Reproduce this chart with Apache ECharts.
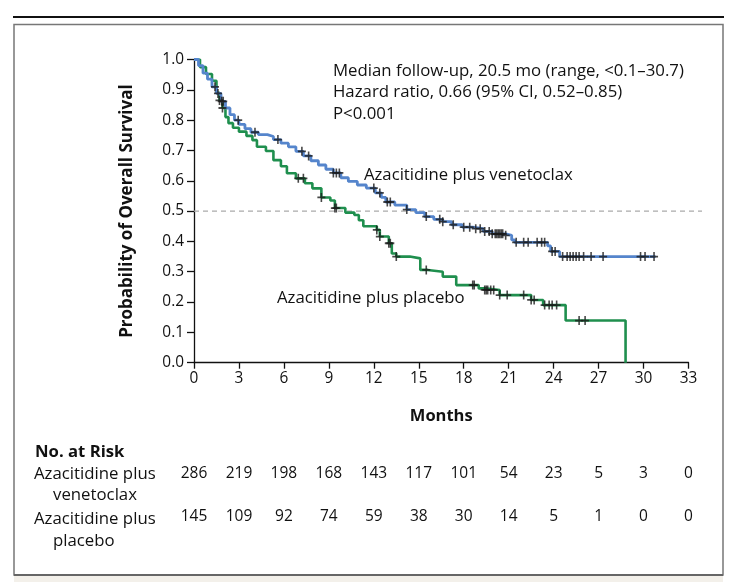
<!DOCTYPE html>
<html><head><meta charset="utf-8">
<script src="https://cdn.jsdelivr.net/npm/echarts@6/dist/echarts.min.js"></script>
<style>html,body{margin:0;padding:0;background:#fff}#c{width:740px;height:582px}</style>
</head><body><div id="c"></div>
<script>
// ---- data ----
var venTimes = [0,0.3,0.6,0.9,1.2,1.5,1.8,2.1,2.4,2.7,3.0,3.4,3.8,4.3,4.9,5.3,5.8,6.3,6.8,7.3,7.8,8.3,8.8,9.3,9.8,10.3,10.9,11.5,12.1,12.5,12.8,13.4,14.2,14.8,15.4,16.0,16.6,17.2,17.9,18.6,19.3,19.9,20.8,21.2,21.4,23.6,23.8,24.4,30.8];
var venSurv  = [1.0,0.98,0.955,0.935,0.91,0.888,0.862,0.84,0.818,0.80,0.786,0.772,0.76,0.752,0.746,0.736,0.724,0.712,0.697,0.682,0.666,0.652,0.638,0.626,0.61,0.598,0.586,0.576,0.56,0.545,0.53,0.52,0.505,0.495,0.482,0.473,0.465,0.455,0.447,0.442,0.433,0.425,0.42,0.405,0.397,0.385,0.367,0.35,0.35];
var plaTimes = [0,0.4,0.8,1.2,1.5,1.7,1.9,2.1,2.3,2.6,3.0,3.5,3.9,4.2,4.8,5.3,5.8,6.2,6.8,7.4,7.9,8.5,9.1,9.4,10.1,10.7,11.0,11.3,12.2,12.4,13.0,13.2,13.5,14.4,15.1,15.6,16.6,17.5,19.0,19.4,20.4,22.5,23.3,24.8,28.8];
var plaSurv  = [1.0,0.975,0.952,0.93,0.89,0.865,0.84,0.81,0.79,0.775,0.762,0.748,0.734,0.712,0.698,0.668,0.648,0.625,0.608,0.592,0.575,0.545,0.535,0.51,0.495,0.487,0.47,0.45,0.438,0.416,0.394,0.36,0.35,0.344,0.306,0.30,0.284,0.256,0.245,0.24,0.223,0.207,0.19,0.139,0.0];
var venCensor = [1.4,1.6,1.85,1.95,2.95,4.07,5.6,7.2,7.65,9.3,9.5,9.7,12.0,12.4,12.9,13.1,14.2,15.5,16.4,16.6,17.3,18.0,18.4,18.8,19.1,19.4,19.7,19.9,20.1,20.2,20.3,20.4,20.5,20.6,20.8,21.5,22.0,22.3,22.9,23.2,23.4,23.9,24.1,24.6,24.9,25.1,25.3,25.5,25.7,26.0,26.5,27.3,29.8,30.1,30.7];
var plaCensor = [1.7,1.9,6.96,7.3,8.5,9.4,9.5,12.2,12.4,13.0,13.1,13.5,15.5,18.6,18.7,19.4,19.5,19.6,19.8,20.0,20.4,20.9,22.0,22.5,22.7,23.4,23.7,23.9,24.2,25.7,26.1];
var xTicks = [0,3,6,9,12,15,18,21,24,27,30,33];
var riskVen = [286,219,198,168,143,117,101,54,23,5,3,0];
var riskPla = [145,109,92,74,59,38,30,14,5,1,0,0];
var annot = ['Median follow-up, 20.5 mo (range, <0.1\u201330.7)','Hazard ratio, 0.66 (95% CI, 0.52\u20130.85)','P<0.001'];

function pairs(t,s){return t.map(function(v,i){return [v,s[i]];});}
function survAt(t,s,x){var v=s[0];for(var i=0;i<t.length;i++){if(t[i]<=x)v=s[i];else break;}return v;}
function censorPts(c,t,s){return c.map(function(x){return [x,survAt(t,s,x)];});}

var FONT='Open Sans';
var BLUE='#5585cc', GREEN='#1f8f4e';
var plus='path://M4,0h2v4h4v2h-4v4h-2v-4h-4v-2h4z';
var chart=echarts.init(document.getElementById('c'),null,{renderer:'canvas'});
var option={
  animation:false,
  textStyle:{fontFamily:FONT},
  grid:{left:194,right:51.5,top:59.5,bottom:219.3,containLabel:false},
  xAxis:{type:'value',min:0,max:33,interval:3,
    axisLine:{lineStyle:{color:'#111',width:1.3}},
    axisTick:{show:true,length:6,lineStyle:{color:'#111',width:1.3}},
    axisLabel:{color:'#111',fontSize:15.4,fontFamily:FONT,margin:8},
    splitLine:{show:false},
    name:'Months',nameLocation:'middle',nameGap:45,
    nameTextStyle:{color:'#111',fontSize:16.5,fontWeight:'bold',fontFamily:FONT}},
  yAxis:{type:'value',min:0,max:1,interval:0.1,
    axisLine:{show:true,lineStyle:{color:'#111',width:1.3}},
    axisTick:{show:true,length:7,lineStyle:{color:'#111',width:1.3}},
    axisLabel:{color:'#111',fontSize:15.4,fontFamily:FONT,margin:10,formatter:function(v){return v.toFixed(1);}},
    splitLine:{show:false},
    name:'Probability of Overall Survival',nameLocation:'middle',nameGap:58,
    nameTextStyle:{color:'#111',fontSize:17,fontWeight:'bold',fontFamily:FONT}},
  series:[
    {type:'line',name:'pla',data:pairs(plaTimes,plaSurv),step:'end',showSymbol:false,
      lineStyle:{color:GREEN,width:2.6},z:2},
    {type:'line',name:'ven',data:pairs(venTimes,venSurv),step:'end',showSymbol:false,
      lineStyle:{color:BLUE,width:2.8},z:3},
    {type:'scatter',data:censorPts(plaCensor,plaTimes,plaSurv),symbol:plus,symbolSize:[8,9],
      itemStyle:{color:'#1a1a1a'},z:4},
    {type:'scatter',data:censorPts(venCensor,venTimes,venSurv),symbol:plus,symbolSize:[8,9],
      itemStyle:{color:'#1a1a1a'},z:4}
  ]
};
chart.setOption(option);

var g=[];
// frame
g.push({type:'line',shape:{x1:13,y1:17,x2:724,y2:17},style:{stroke:'#111',lineWidth:2}});
g.push({type:'rect',shape:{x:14,y:24.5,width:709,height:550.5},style:{fill:'none',stroke:'#777',lineWidth:1.5}});
g.push({type:'rect',shape:{x:14,y:576,width:709,height:8},style:{fill:'#f3f0ea',stroke:'none'}});
g.push({type:'line',shape:{x1:14,y1:575,x2:723,y2:575},style:{stroke:'#666',lineWidth:2}});
// dashed median line
var p0=chart.convertToPixel({gridIndex:0},[0,0.5]);
g.push({type:'line',shape:{x1:p0[0],y1:p0[1],x2:702,y2:p0[1]},style:{stroke:'#aaa',lineWidth:1.2,lineDash:[5,4]},z:1});
// annotations
annot.forEach(function(s,i){
  g.push({type:'text',x:333,y:71+i*21.5,style:{text:s,fill:'#111',fontSize:16.8,fontFamily:FONT,verticalAlign:'middle'}});
});
g.push({type:'text',x:364,y:175,style:{text:'Azacitidine plus venetoclax',fill:'#111',fontSize:16.7,fontFamily:FONT,verticalAlign:'middle'}});
g.push({type:'text',x:277,y:298,style:{text:'Azacitidine plus placebo',fill:'#111',fontSize:16.8,fontFamily:FONT,verticalAlign:'middle'}});
// risk table
g.push({type:'text',x:35,y:452,style:{text:'No. at Risk',fill:'#111',fontSize:16.7,fontWeight:'bold',fontFamily:FONT,verticalAlign:'middle'}});
g.push({type:'text',x:34,y:474,style:{text:'Azacitidine plus',fill:'#111',fontSize:16.8,fontFamily:FONT,verticalAlign:'middle'}});
g.push({type:'text',x:53,y:495,style:{text:'venetoclax',fill:'#111',fontSize:16.8,fontFamily:FONT,verticalAlign:'middle'}});
g.push({type:'text',x:34,y:519,style:{text:'Azacitidine plus',fill:'#111',fontSize:16.8,fontFamily:FONT,verticalAlign:'middle'}});
g.push({type:'text',x:53,y:541,style:{text:'placebo',fill:'#111',fontSize:16.8,fontFamily:FONT,verticalAlign:'middle'}});
xTicks.forEach(function(t,i){
  var px=chart.convertToPixel({gridIndex:0},[t,0])[0];
  g.push({type:'text',x:px,y:474,style:{text:String(riskVen[i]),fill:'#111',fontSize:15.5,fontFamily:FONT,align:'center',verticalAlign:'middle'}});
  g.push({type:'text',x:px,y:517,style:{text:String(riskPla[i]),fill:'#111',fontSize:15.5,fontFamily:FONT,align:'center',verticalAlign:'middle'}});
});
chart.setOption({graphic:g});
</script></body></html>
